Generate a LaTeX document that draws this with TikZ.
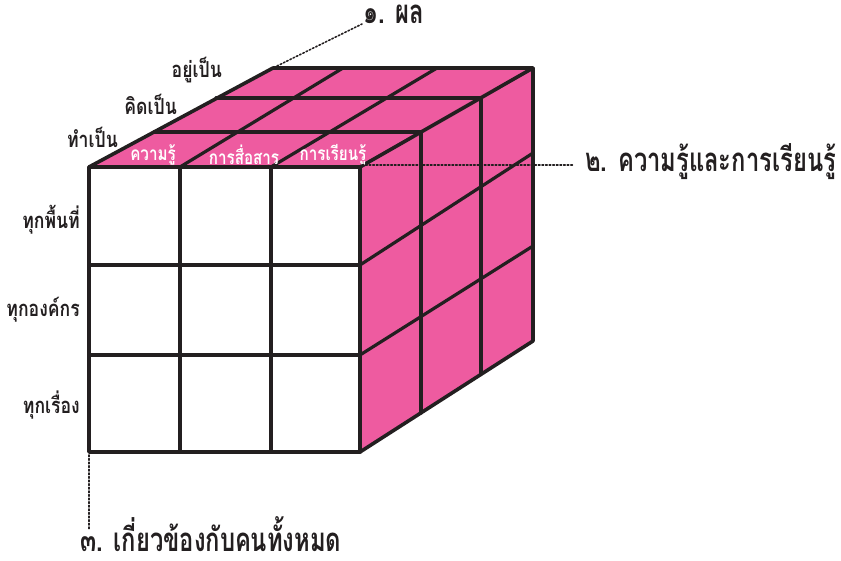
\documentclass[tikz,border=0pt]{standalone}
\usepackage{fontspec}
\newfontfamily\thaifont[Script=Thai,FakeStretch=0.72]{Loma}
\newfontfamily\thaiside[Script=Thai,FakeStretch=0.8]{Loma}
\definecolor{cubepink}{HTML}{EE5BA0}
\definecolor{ink}{HTML}{231F20}
\begin{document}
\begin{tikzpicture}[x=1pt,y=-1pt,
  edge/.style={draw=ink,line width=3.6pt,line join=round,line cap=round},
  grid/.style={draw=ink,line width=3.2pt,line cap=round},
  leader/.style={draw=ink,line width=1.6pt,dotted,line cap=round},
  side/.style={font=\thaiside\bfseries\fontsize{22}{22}\selectfont,text=ink,inner sep=0pt},
  facelbl/.style={font=\thaiside\bfseries\fontsize{19}{19}\selectfont,text=white,inner sep=0pt},
  mainlbl/.style={font=\thaifont\bfseries\fontsize{33}{33}\selectfont,text=ink,inner sep=0pt}]
\useasboundingbox (0,0) rectangle (841,560);
% corners
\coordinate (FTL) at (89,167);
\coordinate (FTR) at (360,167);
\coordinate (FBL) at (89,452);
\coordinate (FBR) at (360,452);
\coordinate (BTL) at (273,68);
\coordinate (BTR) at (533,68);
\coordinate (BBR) at (533,341);
% faces
\fill[cubepink] (FTL) -- (BTL) -- (BTR) -- (FTR) -- cycle;
\fill[cubepink] (FTR) -- (BTR) -- (BBR) -- (FBR) -- cycle;
\fill[white] (FTL) rectangle (FBR);
% front grid
\draw[grid] (180,167) -- (180,452);
\draw[grid] (271,167) -- (271,452);
\draw[grid] (89,265) -- (360,265);
\draw[grid] (89,355) -- (360,355);
% top grid
\draw[grid] (180,167) -- (343,68);
\draw[grid] (271,167) -- (437,68);
\draw[grid] (154,132) -- (421,132);
\draw[grid] (216,98) -- (481,98);
% right grid
\draw[grid] (421,132) -- (421,413);
\draw[grid] (481,98) -- (481,374);
\draw[grid] (360,265) -- (533,153);
\draw[grid] (360,355) -- (533,246);
% outline
\draw[edge] (FTL) -- (BTL) -- (BTR) -- (BBR) -- (FBR) -- (FBL) -- cycle;
\draw[edge] (FTL) -- (FTR) -- (BTR);
\draw[edge] (FTR) -- (FBR);
% face labels
\node[facelbl] (k1) at (153,155) {ความรู้};
\node[facelbl] (k2) at (244,155) {การสื่อสาร};
\node[facelbl] (k3) at (333,155) {การเรียนรู้};
% side labels
\node[side,anchor=east] (d1) at (222,70) {อยู่เป็น};
\node[side,anchor=east] (d2) at (177,104) {คิดเป็น};
\node[side,anchor=east] (d3) at (118,137) {ทำเป็น};
\node[side,anchor=east] (r1) at (80,220) {ทุกพื้นที่};
\node[side,anchor=east] (r2) at (80,310) {ทุกองค์กร};
\node[side,anchor=east] (r3) at (80,405) {ทุกเรื่อง};
% main labels
\node[mainlbl,anchor=west] (m1) at (363,14) {๑. ผล};
\node[mainlbl,anchor=west] (m2) at (585,162) {๒. ความรู้และการเรียนรู้};
\node[mainlbl,anchor=west] (m3) at (80,534) {๓. เกี่ยวข้องกับคนทั้งหมด};
% leaders
\coordinate (e1) at (362,24);
\coordinate (e2) at (574,165);
\coordinate (e3) at (89,530);
\draw[leader] (277,66) -- (e1);
\draw[leader] (362,165) -- (e2);
\draw[leader] (89,455) -- (e3);
\end{tikzpicture}
\end{document}
